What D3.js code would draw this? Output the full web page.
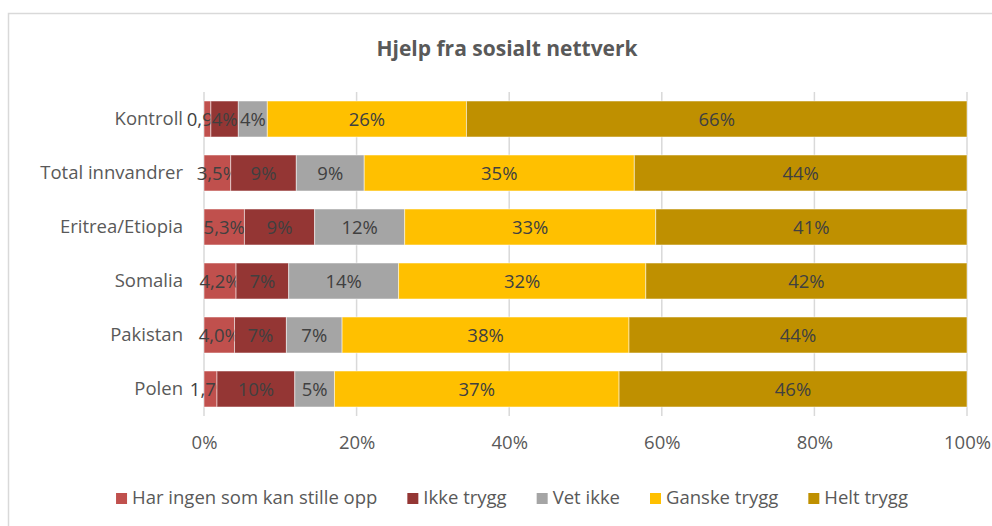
<!DOCTYPE html>
<meta charset="utf-8">
<body style="margin:0;background-color:white;">
<svg width="992" height="526"></svg>
<script src="https://d3js.org/d3.v7.min.js"></script>
<script>

// data (percent of each group)
var categories = ["Kontroll", "Total innvandrer", "Eritrea/Etiopia", "Somalia", "Pakistan", "Polen"];
var seriesNames = ["Har ingen som kan stille opp", "Ikke trygg", "Vet ikke", "Ganske trygg", "Helt trygg"];
var seriesColors = ["#c0504d", "#943634", "#a5a5a5", "#ffc000", "#bf9000"];
var harIngen    = [0.9, 3.5, 5.3, 4.2, 4.0, 1.7];
var ikkeTrygg   = [3.6, 8.6, 9.2, 6.9, 6.8, 10.2];
var vetIkke     = [3.8, 8.9, 11.8, 14.4, 7.3, 5.2];
var ganskeTrygg = [26.1, 35.4, 32.9, 32.4, 37.6, 37.3];
var heltTrygg   = [65.6, 43.6, 40.8, 42.1, 44.3, 45.6];
var xTicks = [0, 20, 40, 60, 80, 100];
var title = "Hjelp fra sosialt nettverk";

var seriesValues = [harIngen, ikkeTrygg, vetIkke, ganskeTrygg, heltTrygg];
var FONT = "'Open Sans', sans-serif";
var FS = "18.5px";

var svg = d3.select("svg");

// outer chart frame
svg.append("rect")
   .attr("x", 8.5).attr("y", 13.5)
   .attr("width", 1000).attr("height", 540)
   .attr("fill", "white")
   .attr("stroke", "#d9d9d9")
   .attr("stroke-width", 1.5);

var x = d3.scaleLinear().domain([0, 100]).range([204, 967]);
var y = d3.scaleBand().domain(categories).range([92, 416])
          .paddingInner(1/3).paddingOuter(1/6);

// gridlines
svg.append("g").selectAll("line")
   .data(xTicks)
   .enter().append("line")
   .attr("x1", function(d) { return x(d); })
   .attr("x2", function(d) { return x(d); })
   .attr("y1", 92).attr("y2", 416)
   .attr("stroke", "#d9d9d9")
   .attr("stroke-width", 1.5);

// build rows for stacking
var rows = categories.map(function(c, i) {
  var r = {cat: c};
  seriesNames.forEach(function(s, j) { r[s] = seriesValues[j][i]; });
  return r;
});
var stacked = d3.stack().keys(seriesNames)(rows);

var layers = svg.append("g").selectAll("g")
   .data(stacked)
   .enter().append("g")
   .attr("fill", function(d, i) { return seriesColors[i]; });

layers.selectAll("rect")
   .data(function(d) { return d; })
   .enter().append("rect")
   .attr("x", function(d) { return x(d[0]); })
   .attr("width", function(d) { return x(d[1]) - x(d[0]); })
   .attr("y", function(d) { return y(d.data.cat); })
   .attr("height", y.bandwidth())
   .attr("stroke", "white")
   .attr("stroke-opacity", 0.5)
   .attr("stroke-width", 1);

// data labels
function fmt(v, si) {
  if (si == 0) return v.toFixed(1).replace(".", ",") + "%";
  return Math.round(v) + "%";
}
layers.each(function(layer, si) {
  d3.select(this).selectAll("text")
    .data(layer)
    .enter().append("text")
    .attr("x", function(d) { return (x(d[0]) + x(d[1])) / 2; })
    .attr("y", function(d) { return y(d.data.cat) + y.bandwidth() / 2; })
    .attr("dy", "0.36em")
    .attr("text-anchor", "middle")
    .attr("fill", "#404040")
    .style("font-family", FONT)
    .style("font-size", FS)
    .text(function(d) { return fmt(d[1] - d[0], si); });
});

// axes
var xAxis = svg.append("g")
   .attr("transform", "translate(0,416)")
   .call(d3.axisBottom(x).tickValues(xTicks).tickFormat(function(d) { return d + "%"; })
         .tickSize(0).tickPadding(20));
var yAxis = svg.append("g")
   .attr("transform", "translate(204,0)")
   .call(d3.axisLeft(y).tickSize(0).tickPadding(21));
[xAxis, yAxis].forEach(function(a) {
  a.select(".domain").remove();
  a.selectAll("text")
   .attr("fill", "#595959")
   .style("font-family", FONT)
   .style("font-size", FS);
});

// title
svg.append("text")
   .attr("x", 507).attr("y", 56)
   .attr("text-anchor", "middle")
   .attr("fill", "#595959")
   .style("font-family", FONT)
   .style("font-size", "21px")
   .style("font-weight", "bold")
   .text(title);

// legend, laid out by text width and centred
var legend = svg.append("g");
var items = legend.selectAll("g")
   .data(seriesNames)
   .enter().append("g");
items.append("rect")
   .attr("width", 11).attr("height", 11)
   .attr("y", 493)
   .attr("fill", function(d, i) { return seriesColors[i]; });
items.append("text")
   .attr("x", 16).attr("y", 504)
   .attr("fill", "#595959")
   .style("font-family", FONT)
   .style("font-size", FS)
   .text(function(d) { return d; });

var pos = 0, offsets = [];
items.each(function() {
  offsets.push(pos);
  pos += 16 + d3.select(this).select("text").node().getComputedTextLength() + 30;
});
var total = pos - 30;
var start = 512 - total / 2;
items.attr("transform", function(d, i) { return "translate(" + (start + offsets[i]) + ",0)"; });

</script>
</body>
